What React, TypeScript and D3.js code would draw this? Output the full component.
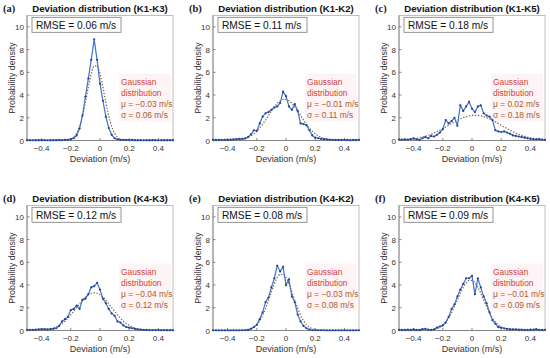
import React from 'react';
import * as d3 from 'd3';

// deviation grid (m/s), shared by all six panels
const deviation = [
  -0.5, -0.48, -0.46, -0.44, -0.42, -0.4, -0.38, -0.36, -0.34, -0.32, -0.3, -0.28, -0.26,
  -0.24, -0.22, -0.2, -0.18, -0.16, -0.14, -0.12, -0.1, -0.08, -0.06, -0.04, -0.02, 0,
  0.02, 0.04, 0.06, 0.08, 0.1, 0.12, 0.14, 0.16, 0.18, 0.2, 0.22, 0.24, 0.26, 0.28, 0.3,
  0.32, 0.34, 0.36, 0.38, 0.4, 0.42, 0.44, 0.46, 0.48, 0.5,
];

const densA = [
  0.03, 0.03, 0.02, 0.03, 0.03, 0.03, 0.03, 0.02, 0.03, 0.03, 0.03,
  0.05, 0.04, 0.05, 0.06, 0.12, 0.2, 0.45, 1.05, 2.2, 3.85, 5.45, 7.1, 8.9, 7.1, 5.0,
  3.5, 2.1, 1.1, 0.5, 0.2, 0.1, 0.06, 0.05, 0.05, 0.04, 0.06,
  0.03, 0.03, 0.03, 0.02, 0.03, 0.03, 0.03, 0.03, 0.02, 0.03, 0.03, 0.03, 0.03, 0.03,
];
const gaussA = [
  0, 0, 0, 0, 0, 0, 0, 0, 0, 0, 0, 0, 0,
  0.015, 0.044, 0.12, 0.292, 0.636, 1.239, 2.159, 3.366, 4.698, 5.868, 6.557, 6.557,
  5.868, 4.698, 3.366, 2.159, 1.239, 0.636, 0.292, 0.12, 0.044, 0.015,
  0, 0, 0, 0, 0, 0, 0, 0, 0, 0, 0, 0, 0, 0, 0, 0,
];

const densB = [
  0.05, 0.05, 0.05, 0.06, 0.05, 0.06, 0.08, 0.1, 0.12, 0.14,
  0.15, 0.18, 0.3, 0.55, 0.9, 0.85, 1.5, 2.1, 2.4, 2.5, 2.7, 2.9, 3.0, 3.3, 4.3, 3.9,
  3.0, 2.7, 3.2, 2.6, 1.5, 1.45, 1.35, 0.9, 0.45, 0.25, 0.2, 0.15, 0.12, 0.1, 0.08,
  0.06, 0.05, 0.05, 0.06, 0.05, 0.05, 0.04, 0.05, 0.05, 0.05,
];
const gaussB = [
  0, 0, 0, 0, 0, 0.007, 0.013, 0.023, 0.04, 0.069, 0.112, 0.178, 0.274, 0.408, 0.586,
  0.816, 1.099, 1.431, 1.804, 2.2, 2.595, 2.962, 3.271, 3.495, 3.612, 3.612, 3.495,
  3.271, 2.962, 2.595, 2.2, 1.804, 1.431, 1.099, 0.816, 0.586, 0.408, 0.274, 0.178,
  0.112, 0.069, 0.04, 0.023, 0.013, 0.007, 0, 0, 0, 0, 0, 0,
];

const densC = [
  0.08, 0.08, 0.1, 0.08, 0.12, 0.2, 0.1, 0.05, 0.2, 0.3, 0.2, 0.4, 0.35, 0.5, 0.7, 1.0,
  1.8, 1.5, 1.7, 2.0, 1.3, 3.1, 2.6, 3.0, 3.4, 2.8, 2.5, 3.0, 3.1, 2.4, 2.2, 2.1, 1.8,
  0.9, 0.8, 0.75, 0.8, 0.7, 0.6, 0.45, 0.4, 0.35, 0.3, 0.25, 0.2, 0.15, 0.12, 0.1,
  0.12, 0.08, 0.05,
];
const gaussC = [
  0.034, 0.047, 0.063, 0.085, 0.112, 0.146, 0.188, 0.239, 0.3, 0.372, 0.456, 0.553,
  0.661, 0.781, 0.911, 1.05, 1.195, 1.344, 1.493, 1.638, 1.774, 1.899, 2.008, 2.096,
  2.162, 2.202, 2.216, 2.202, 2.162, 2.096, 2.008, 1.899, 1.774, 1.638, 1.493, 1.344,
  1.195, 1.05, 0.911, 0.781, 0.661, 0.553, 0.456, 0.372, 0.3, 0.239, 0.188, 0.146,
  0.112, 0.085, 0.063,
];

const densD = [
  0.05, 0.05, 0.05, 0.08, 0.1, 0.12, 0.12, 0.1, 0.12, 0.15, 0.2, 0.4, 0.8, 1.0, 1.2,
  1.8, 1.9, 2.2, 1.9, 2.7, 2.8, 3.2, 3.8, 3.9, 4.2, 3.6, 2.8, 2.4, 1.9, 1.5, 1.3, 0.8,
  0.7, 0.45, 0.3, 0.25, 0.2, 0.15, 0.1, 0.08, 0.05, 0.05,
  0.04, 0.04, 0.04, 0.04, 0.04, 0.04, 0.04, 0.04, 0.04,
];
const gaussD = [
  0, 0, 0.007, 0.013, 0.022, 0.037, 0.06, 0.095, 0.146, 0.218, 0.318, 0.45, 0.619,
  0.829, 1.079, 1.367, 1.683, 2.016, 2.349, 2.662, 2.933, 3.145, 3.278, 3.324, 3.278,
  3.145, 2.933, 2.662, 2.349, 2.016, 1.683, 1.367, 1.079, 0.829, 0.619, 0.45, 0.318,
  0.218, 0.146, 0.095, 0.06, 0.037, 0.022, 0.013, 0.007, 0, 0, 0, 0, 0, 0,
];

const densE = [
  0.02, 0.02, 0.02, 0.02, 0.02, 0.02, 0.02, 0.02, 0.02, 0.02, 0.02, 0.02,
  0.05, 0.15, 0.3, 0.5, 1.0, 1.6, 2.5, 2.9, 3.8, 4.6, 5.7, 5.2, 5.6, 4.0, 4.5, 3.0,
  2.5, 1.4, 0.8, 0.4, 0.2, 0.08,
  0.02, 0.02, 0.02, 0.02, 0.02, 0.02, 0.02, 0.02, 0.02, 0.02, 0.02, 0.02, 0.02, 0.02,
  0.02, 0.02, 0.02,
];
const gaussE = [
  0, 0, 0, 0, 0, 0, 0, 0, 0, 0,
  0.017, 0.038, 0.08, 0.159, 0.297, 0.522, 0.86, 1.332, 1.938, 2.649, 3.401, 4.102,
  4.648, 4.948, 4.948, 4.648, 4.102, 3.401, 2.649, 1.938, 1.332, 0.86, 0.522, 0.297,
  0.159, 0.08, 0.038, 0.017,
  0, 0, 0, 0, 0, 0, 0, 0, 0, 0, 0, 0, 0,
];

const densF = [
  0.05, 0.05, 0.05, 0.08, 0.05, 0.1, 0.05, 0.05, 0.12, 0.15, 0.08, 0.05, 0.1, 0.25,
  0.35, 0.45, 0.7, 1.2, 1.9, 2.3, 3.0, 3.6, 4.1, 4.6, 4.6, 4.8, 3.2, 4.6, 3.8, 3.0,
  2.4, 1.6, 0.9, 0.6, 0.3, 0.25, 0.2, 0.15, 0.12, 0.1, 0.1, 0.08, 0.08, 0.05, 0.05,
  0.05, 0.08, 0.12, 0.05, 0.05, 0.05,
];
const gaussF = [
  0, 0, 0, 0, 0, 0, 0, 0, 0,
  0.012, 0.025, 0.049, 0.094, 0.169, 0.291, 0.477, 0.745, 1.106, 1.562, 2.1, 2.689,
  3.276, 3.799, 4.194, 4.406, 4.406, 4.194, 3.799, 3.276, 2.689, 2.1, 1.562, 1.106,
  0.745, 0.477, 0.291, 0.169, 0.094, 0.049, 0.025, 0.012,
  0, 0, 0, 0, 0, 0, 0, 0, 0, 0,
];

const letters = ['(a)', '(b)', '(c)', '(d)', '(e)', '(f)'];
const pairs = ['K1-K3', 'K1-K2', 'K1-K5', 'K4-K3', 'K4-K2', 'K4-K5'];
const rmse = ['0.06', '0.11', '0.18', '0.12', '0.08', '0.09'];
const mus = ['\u22120.03', '\u22120.01', '0.02', '\u22120.04', '\u22120.03', '\u22120.01'];
const sigmas = ['0.06', '0.11', '0.18', '0.12', '0.08', '0.09'];
const densities = [densA, densB, densC, densD, densE, densF];
const gaussians = [gaussA, gaussB, gaussC, gaussD, gaussE, gaussF];

const xTicks = [-0.4, -0.2, 0, 0.2, 0.4];
const yTicks = [0, 2, 4, 6, 8, 10];

const colLeft = [27, 213, 399];
const rowTop = [15.5, 205.5];
const plotW = 146;
const plotH = 125;

const sans = '"Liberation Sans", Arial, sans-serif';
const fmt = (v: number) => (v === 0 ? '0' : v < 0 ? '\u2212' + Math.abs(v) : String(v));

const Panel = ({ idx }: { idx: number }) => {
  const left = colLeft[idx % 3];
  const top = rowTop[Math.floor(idx / 3)];
  const x = d3.scaleLinear().domain([-0.5, 0.5]).range([left, left + plotW]);
  const y = d3.scaleLinear().domain([0, 11]).range([top + plotH, top]);
  const pts = deviation.map((d, i) => [d, densities[idx][i]] as [number, number]);
  const gpts = deviation.map((d, i) => [d, gaussians[idx][i]] as [number, number]);
  const line = d3.line<[number, number]>().x(d => x(d[0])).y(d => y(d[1]));
  const smooth = d3
    .line<[number, number]>()
    .x(d => x(d[0]))
    .y(d => y(d[1]))
    .curve(d3.curveMonotoneX);
  const bottom = top + plotH;
  const gx = left + 94;

  return (
    <g>
      <text x={left - 24} y={top - 4} fontFamily='"Liberation Serif", serif' fontWeight="bold" fontSize={10.5} fill="#222">
        {letters[idx]}
      </text>
      <text x={left + plotW / 2} y={top - 4} textAnchor="middle" fontFamily={sans} fontWeight="bold" fontSize={9.6} fill="#111">
        Deviation distribution ({pairs[idx]})
      </text>
      <rect x={left} y={top} width={plotW} height={plotH} fill="#fff" stroke="#b0b0b0" strokeWidth={0.8} />
      {yTicks.map(t => (
        <g key={'y' + t}>
          <line x1={left} x2={left + 2.5} y1={y(t)} y2={y(t)} stroke="#555" strokeWidth={0.7} />
          <text x={left - 3} y={y(t) + 3} textAnchor="end" fontFamily={sans} fontSize={8} fill="#333">
            {t}
          </text>
        </g>
      ))}
      {xTicks.map(t => (
        <g key={'x' + t}>
          <line x1={x(t)} x2={x(t)} y1={bottom} y2={bottom - 2.5} stroke="#555" strokeWidth={0.7} />
          <text x={x(t)} y={bottom + 10.5} textAnchor="middle" fontFamily={sans} fontSize={8} fill="#333">
            {fmt(t)}
          </text>
        </g>
      ))}
      <line x1={left} x2={left} y1={top} y2={bottom} stroke="#777" strokeWidth={0.8} />
      <line x1={left} x2={left + plotW} y1={bottom} y2={bottom} stroke="#777" strokeWidth={0.8} />
      <text
        transform={`translate(${left - 12},${top + plotH / 2}) rotate(-90)`}
        textAnchor="middle"
        fontFamily={sans}
        fontSize={8.8}
        fill="#333"
      >
        Probability density
      </text>
      <text x={left + plotW / 2} y={bottom + 21.5} textAnchor="middle" fontFamily={sans} fontSize={9} fill="#333">
        Deviation (m/s)
      </text>
      <rect x={left + 5} y={top + 1.8} width={89} height={15} fill="#fff" stroke="#7a7a7a" strokeWidth={0.8} />
      <text x={left + 9} y={top + 13.3} fontFamily={sans} fontSize={10.2} fill="#111">
        RMSE = {rmse[idx]} m/s
      </text>
      <rect x={gx - 2} y={top + 58} width={plotW - 94} height={48} fill="#fef3f5" />
      <text fontFamily={sans} fontSize={8.4}>
        <tspan x={gx} y={top + 69} fill="#d0453a">Gaussian</tspan>
        <tspan x={gx} y={top + 80} fill="#d0453a">distribution</tspan>
        <tspan x={gx} y={top + 91.5} fill="#a5612c">μ = {mus[idx]} m/s</tspan>
        <tspan x={gx} y={top + 102.5} fill="#a5612c">σ = {sigmas[idx]} m/s</tspan>
      </text>
      <path d={smooth(gpts) || ''} fill="none" stroke="#7d6c44" strokeWidth={1.25} strokeDasharray="1.4,1.6" />
      <path d={line(pts) || ''} fill="none" stroke="#4472c4" strokeWidth={1.2} />
      {pts.map((p, i) => (
        <circle key={i} cx={x(p[0])} cy={y(p[1])} r={1.1} fill="#23409a" />
      ))}
    </g>
  );
};

const App = () => {
  return (
    <svg
      width={550}
      height={358}
      style={{ position: 'absolute', left: 0, top: 0, background: '#fff' }}
    >
      {[0, 1, 2, 3, 4, 5].map(i => (
        <Panel key={i} idx={i} />
      ))}
    </svg>
  );
};

export default App;
